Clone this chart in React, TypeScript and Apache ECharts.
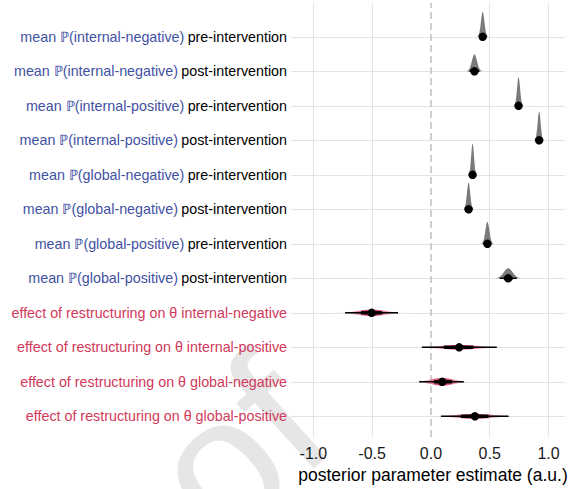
import React, { useEffect, useRef } from 'react';
import * as echarts from 'echarts';

// ---- data ----
const paramNames = [
  'internal-negative', 'internal-negative', 'internal-positive', 'internal-positive',
  'global-negative', 'global-negative', 'global-positive', 'global-positive',
];
const phases = [
  'pre-intervention', 'post-intervention', 'pre-intervention', 'post-intervention',
  'pre-intervention', 'post-intervention', 'pre-intervention', 'post-intervention',
];
const effectNames = ['internal-negative', 'internal-positive', 'global-negative', 'global-positive'];

const medians = [0.44, 0.37, 0.745, 0.92, 0.354, 0.32, 0.48, 0.657, -0.504, 0.24, 0.096, 0.374];
const spreads = [0.015, 0.022, 0.013, 0.013, 0.012, 0.014, 0.017, 0.037, 0.115, 0.16, 0.097, 0.147];
const lo95 = [0.41, 0.327, 0.72, 0.895, 0.33, 0.293, 0.447, 0.585, -0.73, -0.077, -0.1, 0.085];
const lo66 = [0.425, 0.348, 0.732, 0.907, 0.342, 0.306, 0.463, 0.62, -0.595, 0.11, 0.026, 0.255];
const hi66 = [0.455, 0.392, 0.758, 0.933, 0.366, 0.334, 0.497, 0.694, -0.416, 0.36, 0.18, 0.49];
const hi95 = [0.47, 0.413, 0.77, 0.945, 0.378, 0.347, 0.513, 0.73, -0.28, 0.56, 0.28, 0.66];

const xTicks = [-1, -0.5, 0, 0.5, 1];
const axisTitle = 'posterior parameter estimate (a.u.)';
const watermark = 'proof';

const N = medians.length;
const FONT = '"Liberation Sans", Arial, Helvetica, sans-serif';
const BLUE = '#3F51A3';
const RED = '#D1395A';

function rowLabel(i: number): string {
  if (i < 8) return `{b|mean \u2119(${paramNames[i]})} {k|${phases[i]}}`;
  return `{r|effect of restructuring on \u03B8 ${effectNames[i - 8]}}`;
}

export default function App() {
  const ref = useRef<HTMLDivElement>(null);
  useEffect(() => {
    const chart = echarts.init(ref.current!, null, { renderer: 'svg' });
    const minSd = Math.min(...spreads);
    const rowValues = medians.map((_, i) => N - i);

    const renderItem = (params: any, api: any) => {
      const i = api.value(0) as number;
      const yv = N - i;
      const med = medians[i];
      const sd = spreads[i];
      const base = api.coord([med, yv]);
      const rowPx = (api.size([1, 1]) as number[])[1];
      const h = 0.9 * rowPx * minSd / sd;
      const upper: number[][] = [];
      const lower: number[][] = [];
      const stops: any[] = [];
      for (let k = 0; k <= 80; k++) {
        const t = -4 + k * 0.1;
        const x = api.coord([med + t * sd, yv])[0];
        const d = Math.exp(-t * t / 2);
        upper.push([x, base[1] - h * d]);
        lower.push([x, base[1] + h * d]);
        if (k % 5 === 0) stops.push({ offset: k / 80, color: `rgba(214,49,90,${(0.95 * d).toFixed(3)})` });
      }
      const children: any[] = [];
      if (i < 8) {
        children.push({
          type: 'polygon',
          shape: { points: [...upper, [upper[upper.length - 1][0], base[1]], [upper[0][0], base[1]]] },
          style: { fill: '#7a7a7a' },
        });
      } else {
        children.push({
          type: 'polygon',
          shape: { points: [...upper, ...lower.reverse()] },
          style: { fill: new echarts.graphic.LinearGradient(0, 0, 1, 0, stops) },
        });
      }
      const p95a = api.coord([lo95[i], yv]);
      const p95b = api.coord([hi95[i], yv]);
      const p66a = api.coord([lo66[i], yv]);
      const p66b = api.coord([hi66[i], yv]);
      children.push({
        type: 'line',
        shape: { x1: p95a[0], y1: base[1], x2: p95b[0], y2: base[1] },
        style: { stroke: '#000', lineWidth: 1.4 },
      });
      children.push({
        type: 'line',
        shape: { x1: p66a[0], y1: base[1], x2: p66b[0], y2: base[1] },
        style: { stroke: '#000', lineWidth: 3.4 },
      });
      children.push({
        type: 'circle',
        shape: { cx: base[0], cy: base[1], r: 4.2 },
        style: { fill: '#000' },
      });
      return { type: 'group', children };
    };

    const gridV = xTicks.map((v) =>
      v === 0
        ? { xAxis: v, lineStyle: { color: '#C4C4C4', width: 1.6, type: [7, 4] } }
        : { xAxis: v, lineStyle: { color: '#E4E4E4', width: 1.1, type: 'solid' } }
    );
    const gridH = rowValues.map((v) => ({ yAxis: v, lineStyle: { color: '#E4E4E4', width: 1.1, type: 'solid' } }));

    chart.setOption({
      animation: false,
      backgroundColor: '#fff',
      textStyle: { fontFamily: FONT },
      graphic: [
        {
          type: 'text',
          x: 360,
          y: 466,
          rotation: (42 * Math.PI) / 180,
          z: -10,
          silent: true,
          style: {
            text: watermark,
            fontSize: 190,
            fontFamily: FONT,
            fill: '#E6E6E6',
            textAlign: 'right',
            textVerticalAlign: 'bottom',
          },
        },
      ],
      grid: { left: 291, right: 14, top: 3, bottom: 51, containLabel: false },
      xAxis: {
        type: 'value',
        min: -1.19,
        max: 1.14,
        axisLine: { show: false },
        axisTick: { show: false },
        splitLine: { show: false },
        axisLabel: {
          customValues: xTicks,
          formatter: (v: number) => v.toFixed(1),
          color: '#1a1a1a',
          fontSize: 16,
          fontFamily: FONT,
          margin: 8,
        },
        name: axisTitle,
        nameLocation: 'middle',
        nameGap: 29,
        nameTextStyle: { color: '#000', fontSize: 17.5, fontFamily: FONT, padding: [0, 0, 0, 10] },
      },
      yAxis: {
        type: 'value',
        min: 0.4,
        max: 12.98,
        axisLine: { show: false },
        splitLine: { show: false },
        axisTick: {
          show: true,
          customValues: rowValues,
          length: 3,
          lineStyle: { color: '#E4E4E4', width: 1.1 },
        },
        axisLabel: {
          customValues: rowValues,
          margin: 4,
          formatter: (v: number) => rowLabel(N - Math.round(v)),
          rich: {
            b: { color: BLUE, fontSize: 14.3, fontFamily: FONT },
            k: { color: '#000', fontSize: 14.3, fontFamily: FONT },
            r: { color: RED, fontSize: 14.3, fontFamily: FONT },
          },
        },
      },
      series: [
        {
          type: 'scatter',
          data: [],
          z: 1,
          markLine: {
            silent: true,
            symbol: ['none', 'none'],
            label: { show: false },
            animation: false,
            data: [...gridH, ...gridV],
          },
        },
        {
          type: 'custom',
          z: 5,
          renderItem,
          encode: { x: 1, y: 0 },
          data: medians.map((m, i) => [i, m]),
        },
      ],
    });
    return () => chart.dispose();
  }, []);
  return <div ref={ref} style={{ position: 'fixed', left: 0, top: 0, width: 579, height: 489 }} />;
}
